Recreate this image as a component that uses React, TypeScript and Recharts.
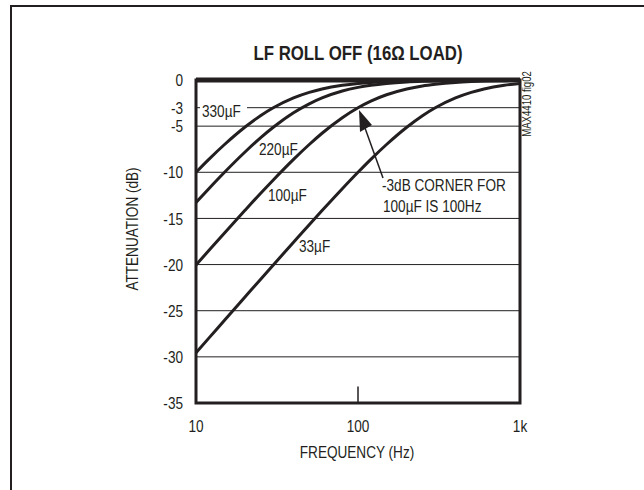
import { LineChart, Line, XAxis, YAxis, CartesianGrid, ReferenceLine, ReferenceArea, Customized } from 'recharts';

const FONT = "'Liberation Sans', Arial, sans-serif";
const INK = '#231f20';
const SQUEEZE = 0.8; // condensed look, like Helvetica Narrow

// frequency points (Hz) and attenuation (dB)
const freqHz = [10, 12, 15, 20, 25, 30, 40, 50, 60, 80, 100, 120, 150, 200, 250, 300, 400, 500, 600, 800, 1000];
const att330uF = [-10.0, -8.6, -6.99, -5.12, -3.87, -3.01, -1.94, -1.34, -0.97, -0.57, -0.37, -0.26, -0.17, -0.1, -0.06, -0.04, -0.02, -0.016, -0.01, -0.006, -0.004];
const att220uF = [-13.27, -11.78, -10.0, -7.83, -6.27, -5.12, -3.55, -2.58, -1.94, -1.19, -0.8, -0.57, -0.37, -0.21, -0.14, -0.1, -0.05, -0.04, -0.02, -0.01, -0.01];
const att100uF = [-20.04, -18.48, -16.57, -14.15, -12.3, -10.83, -8.6, -6.99, -5.77, -4.09, -3.01, -2.29, -1.6, -0.97, -0.64, -0.46, -0.26, -0.17, -0.12, -0.07, -0.04];
const att33uF = [-29.55, -27.97, -26.03, -23.54, -21.61, -20.04, -17.58, -15.68, -14.15, -11.78, -10.0, -8.6, -6.99, -5.12, -3.87, -3.01, -1.94, -1.34, -0.97, -0.57, -0.37];

const xTicks = [10, 100, 1000];
const yTicks = [0, -3, -5, -10, -15, -20, -25, -30, -35];

const data = freqHz.map((f, i) => ({
  f,
  c330: att330uF[i],
  c220: att220uF[i],
  c100: att100uF[i],
  c33: att33uF[i],
}));

type NTProps = {
  x: number;
  y: number;
  anchor?: 'start' | 'middle' | 'end';
  size?: number;
  bold?: boolean;
  rotate?: number;
  dy?: string;
  children: React.ReactNode;
};

function NText({ x, y, anchor = 'start', size = 17, bold, rotate = 0, dy, children }: NTProps) {
  return (
    <text
      transform={`translate(${x},${y}) rotate(${rotate}) scale(${SQUEEZE},1)`}
      textAnchor={anchor}
      dy={dy}
      fill={INK}
      fontFamily={FONT}
      fontSize={size}
      fontWeight={bold ? 'bold' : 'normal'}
    >
      {children}
    </text>
  );
}

const fmtX = (v: number) => (v === 1000 ? '1k' : String(v));

const XTick = (p: any) => (
  <NText x={p.x} y={p.y} anchor="middle" dy="0.71em">
    {fmtX(p.payload.value)}
  </NText>
);

const YTick = (p: any) => (
  <NText x={p.x} y={p.y} anchor="end" dy="0.36em">
    {p.payload.value}
  </NText>
);

function Notes() {
  return (
    <g>
      <NText x={358} y={60} anchor="middle" size={21} bold>
        LF ROLL OFF (16Ω LOAD)
      </NText>
      <NText x={357} y={458} anchor="middle">FREQUENCY (Hz)</NText>
      <NText x={138} y={229} anchor="middle" rotate={-90}>
        ATTENUATION (dB)
      </NText>
      <NText x={531} y={104} anchor="middle" rotate={-90} size={12}>
        MAX4410 fig02
      </NText>

      <rect x={200} y={102} width={47} height={18} fill="#fff" />
      <NText x={202} y={117}>330µF</NText>
      <NText x={259} y={155}>220µF</NText>
      <NText x={268} y={201}>100µF</NText>
      <NText x={299} y={252}>33µF</NText>
      <NText x={382} y={191}>-3dB CORNER FOR</NText>
      <NText x={383} y={212}>100µF IS 100Hz</NText>

      <line x1={383} y1={178} x2={365} y2={128} stroke={INK} strokeWidth={1.5} />
      <polygon points="359,110 372,125 360,132" fill={INK} />
    </g>
  );
}

export default function App() {
  return (
    <div style={{ position: 'absolute', left: 0, top: 0, width: 644, height: 490, background: '#fff' }}>
      <div
        style={{
          position: 'absolute',
          left: 10,
          top: 5,
          width: 634,
          height: 485,
          borderTop: `2.5px solid ${INK}`,
          borderLeft: `2.5px solid ${INK}`,
          boxSizing: 'border-box',
        }}
      />
      <LineChart
        width={644}
        height={490}
        data={data}
        margin={{ top: 80, right: 124, left: 136, bottom: 57 }}
        style={{ position: 'absolute', left: 0, top: 0 }}
      >
        <CartesianGrid vertical={false} stroke={INK} strokeWidth={1} horizontalValues={yTicks} />
        <XAxis
          dataKey="f"
          type="number"
          scale="log"
          domain={[10, 1000]}
          ticks={xTicks}
          allowDataOverflow
          axisLine={false}
          tickLine={false}
          tickMargin={11}
          height={30}
          tick={XTick}
        />
        <YAxis
          type="number"
          domain={[-35, 0]}
          ticks={yTicks}
          interval={0}
          allowDataOverflow
          axisLine={false}
          tickLine={false}
          tickMargin={7}
          width={60}
          tick={YTick}
        />
        <ReferenceLine
          segment={[{ x: 100, y: -35 }, { x: 100, y: -33.2 }]}
          stroke={INK}
          strokeWidth={1.5}
        />
        <Line dataKey="c330" type="monotone" stroke={INK} strokeWidth={3} dot={false} isAnimationActive={false} />
        <Line dataKey="c220" type="monotone" stroke={INK} strokeWidth={3} dot={false} isAnimationActive={false} />
        <Line dataKey="c100" type="monotone" stroke={INK} strokeWidth={3} dot={false} isAnimationActive={false} />
        <Line dataKey="c33" type="monotone" stroke={INK} strokeWidth={3} dot={false} isAnimationActive={false} />
        <ReferenceArea x1={10} x2={1000} y1={-35} y2={0} fill="none" stroke={INK} strokeWidth={3} ifOverflow="visible" />
        <ReferenceLine y={0} stroke={INK} strokeWidth={5} />
        <Customized component={Notes} />
      </LineChart>
    </div>
  );
}
